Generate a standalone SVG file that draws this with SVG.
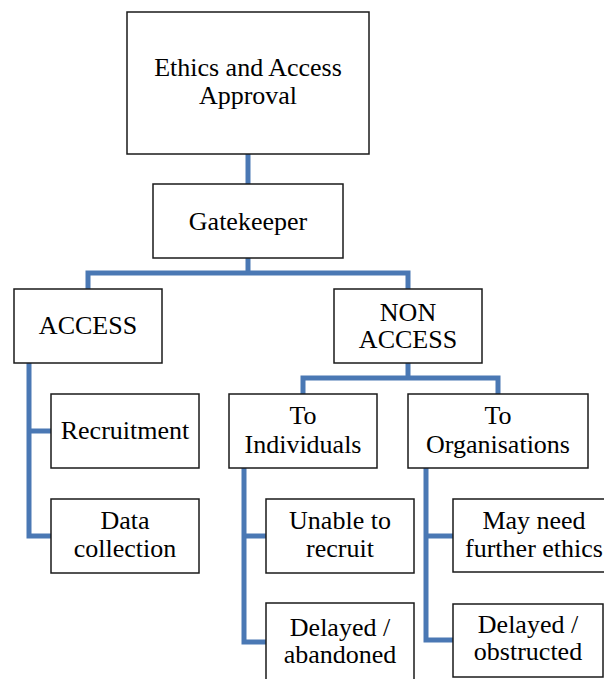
<svg xmlns="http://www.w3.org/2000/svg" width="604" height="679" viewBox="0 0 604 679">
<style>
.box{fill:#fff;stroke:#1a1a1a;stroke-width:1.5}
.t{font-size:26px;fill:#000;text-anchor:middle}
.c{fill:none;stroke:#4a78b4;stroke-width:5;stroke-linejoin:miter;stroke-linecap:butt}
</style>
<rect width="604" height="679" fill="#fff"/>
<g id="connectors">
<path class="c" d="M248,154 V184"/>
<path class="c" d="M248,258 V273"/>
<path class="c" d="M88,289 V273 H408 V289"/>
<path class="c" d="M408,363 V378"/>
<path class="c" d="M303,394 V378 H498 V394"/>
<path class="c" d="M29,363 V536 H51 M29,431 H51"/>
<path class="c" d="M244,468 V642 H266 M244,536 H266"/>
<path class="c" d="M426,468 V640 H453 M426,536 H453"/>
</g>
<g font-family="'Liberation Serif', 'DejaVu Serif', serif">
<g id="ethics"><rect class="box" x="127" y="12" width="242" height="142"/><text class="t" x="248" y="76">Ethics and Access</text><text class="t" x="248" y="104">Approval</text></g>
<g id="gatekeeper"><rect class="box" x="153" y="184" width="190" height="74"/><text class="t" x="248" y="230">Gatekeeper</text></g>
<g id="access"><rect class="box" x="14" y="289" width="148" height="74"/><text class="t" x="88" y="334">ACCESS</text></g>
<g id="nonaccess"><rect class="box" x="334" y="289" width="148" height="74"/><text class="t" x="408" y="321">NON</text><text class="t" x="408" y="348">ACCESS</text></g>
<g id="individuals"><rect class="box" x="229" y="394" width="148" height="74"/><text class="t" x="303" y="424">To</text><text class="t" x="303" y="453">Individuals</text></g>
<g id="organisations"><rect class="box" x="408" y="394" width="180" height="74"/><text class="t" x="498" y="424">To</text><text class="t" x="498" y="453">Organisations</text></g>
<g id="recruitment"><rect class="box" x="51" y="394" width="148" height="74"/><text class="t" x="125" y="439">Recruitment</text></g>
<g id="datacollection"><rect class="box" x="51" y="499" width="148" height="74"/><text class="t" x="125" y="529">Data</text><text class="t" x="125" y="557">collection</text></g>
<g id="unable"><rect class="box" x="266" y="499" width="148" height="74"/><text class="t" x="340" y="529">Unable to</text><text class="t" x="340" y="557">recruit</text></g>
<g id="abandoned"><rect class="box" x="266" y="603" width="148" height="90"/><text class="t" x="340" y="636">Delayed /</text><text class="t" x="340" y="663">abandoned</text></g>
<g id="furtherethics"><rect class="box" x="453" y="499" width="163" height="73"/><text class="t" x="534" y="529">May need</text><text class="t" x="534" y="557">further ethics</text></g>
<g id="obstructed"><rect class="box" x="453" y="604" width="150" height="73"/><text class="t" x="528" y="633">Delayed /</text><text class="t" x="528" y="660">obstructed</text></g>
</g>
</svg>
